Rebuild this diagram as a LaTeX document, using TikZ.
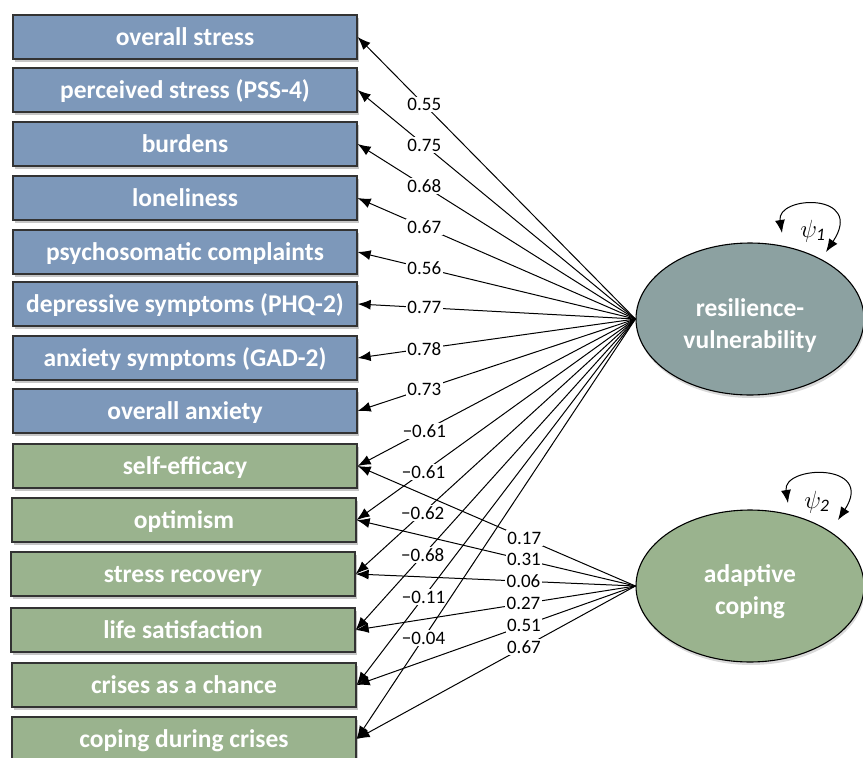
\documentclass[tikz,border=0pt]{standalone}
\usepackage{fontspec}
\setmainfont{Carlito}
\usetikzlibrary{arrows.meta,shapes.geometric,shadows}

\definecolor{vulblue}{HTML}{7D98BA}
\definecolor{copgreen}{HTML}{9AB38E}
\definecolor{rvgray}{HTML}{8CA1A1}

\begin{document}
\begin{tikzpicture}[x=1pt, y=-1pt, >={Latex[length=13pt,width=10pt]},
    font=\fontsize{19}{22}\selectfont,
    box/.style={draw=black!80, line width=1.3pt, minimum width=344pt,
      minimum height=44pt, inner sep=0pt, text=white, text height=18pt,
      text depth=1pt, font=\fontsize{25.5}{30}\selectfont\bfseries,
      drop shadow={shadow xshift=2pt, shadow yshift=-2.5pt, opacity=.45}},
    vbox/.style={box, fill=vulblue}, cbox/.style={box, fill=copgreen},
    latent/.style={ellipse, draw, line width=1.1pt, minimum width=228pt,
      minimum height=152pt, align=center, text=white,
      font=\fontsize{25.5}{32}\selectfont\bfseries,
      drop shadow={shadow xshift=1pt, shadow yshift=-3pt, opacity=.3}},
    load/.style={->, line width=1pt}, coef/.style={fill=white, inner sep=1.5pt},
    var/.style={<->, line width=1pt}, psi/.style={font=\fontsize{25}{27}\selectfont} ]

    \useasboundingbox (0,0) rectangle (863,758);

    % Indicators, vulnerability side
    \node[vbox] (ostress) at (185,37) {overall stress}; \node[vbox] (pss) at
    (185,90) {perceived stress (PSS-4)}; \node[vbox] (burd) at (185,144)
    {burdens}; \node[vbox] (lonely) at (185,198) {loneliness}; \node[vbox]
    (psycho) at (185,252) {psychosomatic complaints}; \node[vbox] (phq) at
    (185,304) {depressive symptoms (PHQ-2)}; \node[vbox] (gad) at (185,358)
    {anxiety symptoms (GAD-2)}; \node[vbox] (oanx) at (185,411) {overall
    anxiety};

    % Indicators, coping side
    \node[cbox] (selfeff) at (185,466) {self-efficacy}; \node[cbox] (optim) at
    (184,520) {optimism}; \node[cbox] (srec) at (183,574) {stress recovery};
    \node[cbox] (lifesat) at (183,630) {life satisfaction}; \node[cbox]
    (crises) at (184,685) {crises as a chance}; \node[cbox] (copcr) at
    (184,739) {coping during crises};

    % Latent factors
    \node[latent, fill=rvgray] (rv) at (750,319)
    {\rule{0pt}{30pt}resilience-\\vulnerability}; \node[latent, fill=copgreen]
    (ac) at (750,586) {\rule{0pt}{30pt}adaptive\\coping};

    % Residual variances
    \draw[var] ([shift={(32,-86)}]rv.center) .. controls +(-6,-38) and
    +(40,-60) .. ([shift={(76,-67)}]rv.center); \node[psi] (psi1) at
    ([shift={(63,-88)}]rv.center) {$\psi_{\mathit{1}}$};
    \draw[var] ([shift={(38,-83)}]ac.center) .. controls +(-6,-38) and
    +(38,-58) .. ([shift={(88,-66)}]ac.center); \node[psi] (psi2) at
    ([shift={(67,-84)}]ac.center) {$\psi_{\mathit{2}}$};

    % Loadings on resilience-vulnerability
    \draw[load] (rv.west) -- node[coef, pos=.76] {0.55} (ostress.east);
    \draw[load] (rv.west) -- node[coef, pos=.76] {0.75} (pss.east);
    \draw[load] (rv.west) -- node[coef, pos=.76] {0.68} (burd.east);
    \draw[load] (rv.west) -- node[coef, pos=.76] {0.67} (lonely.east);
    \draw[load] (rv.west) -- node[coef, pos=.76] {0.56} (psycho.east);
    \draw[load] (rv.west) -- node[coef, pos=.76] {0.77} (phq.east);
    \draw[load] (rv.west) -- node[coef, pos=.76] {0.78} (gad.east);
    \draw[load] (rv.west) -- node[coef, pos=.76] {0.73} (oanx.east);
    \draw[load] (rv.west) -- node[coef, pos=.76] {−0.61} (selfeff.east);
    \draw[load] (rv.west) -- node[coef, pos=.76] {−0.61} (optim.east);
    \draw[load] (rv.west) -- node[coef, pos=.76] {−0.62} (srec.east);
    \draw[load] (rv.west) -- node[coef, pos=.76] {−0.68} (lifesat.east);
    \draw[load] (rv.west) -- node[coef, pos=.76] {−0.11} (crises.east);
    \draw[load] (rv.west) -- node[coef, pos=.76] {−0.04} (copcr.east);

    % Loadings on adaptive coping
    \draw[load] (ac.west) -- node[coef, pos=.4] {0.17} (selfeff.east);
    \draw[load] (ac.west) -- node[coef, pos=.4] {0.31} (optim.east);
    \draw[load] (ac.west) -- node[coef, pos=.4] {0.06} (srec.east);
    \draw[load] (ac.west) -- node[coef, pos=.4] {0.27} (lifesat.east);
    \draw[load] (ac.west) -- node[coef, pos=.4] {0.51} (crises.east);
    \draw[load] (ac.west) -- node[coef, pos=.4] {0.67} (copcr.east);

  \end{tikzpicture}
\end{document}
